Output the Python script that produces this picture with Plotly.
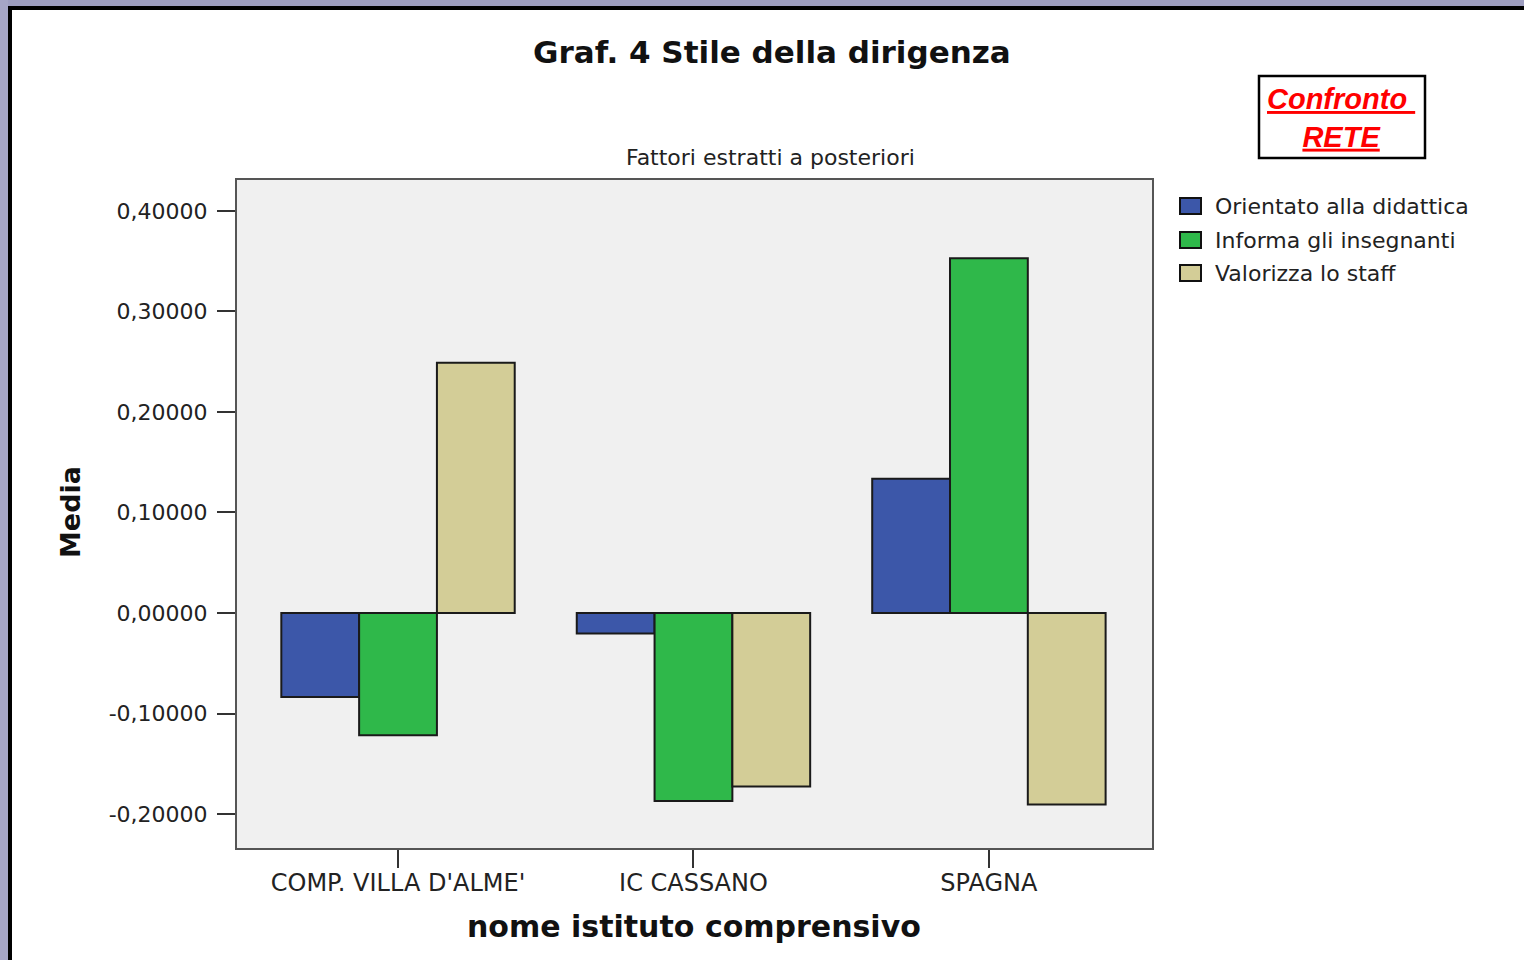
import plotly.graph_objects as go

# ---- data ----
categories = ["COMP. VILLA D'ALME'", "IC CASSANO", "SPAGNA"]
series_names = ["Orientato alla didattica", "Informa gli insegnanti", "Valorizza lo staff"]
orientato = [-0.0835, -0.0205, 0.1335]
informa = [-0.1215, -0.1870, 0.3530]
valorizza = [0.2490, -0.1725, -0.1905]
series_colors = ["#3c57a9", "#2fb84a", "#d3cd97"]
ytick_vals = [-0.2, -0.1, 0.0, 0.1, 0.2, 0.3, 0.4]
ytick_text = ["-0,20000", "-0,10000", "0,00000", "0,10000", "0,20000", "0,30000", "0,40000"]

W, H = 1524, 960
L, R, T, B = 237, 1152, 180, 848
FONT = "DejaVu Sans"


def px(x):
    return (x - L) / (R - L)


def py(y):
    return (B - y) / (B - T)


fig = go.Figure()
for name, vals, col in zip(series_names, [orientato, informa, valorizza], series_colors):
    fig.add_trace(go.Bar(
        x=categories, y=vals, name=name,
        marker=dict(color=col, line=dict(color="#1a1a1a", width=2)),
        showlegend=False,
    ))

shapes = []
# outer frame (lavender bands and black edge)
shapes.append(dict(type="rect", xref="paper", yref="paper", layer="above",
                   x0=px(0), x1=px(W), y0=py(0), y1=py(7),
                   fillcolor="#9e9ec0", line=dict(width=0)))
shapes.append(dict(type="rect", xref="paper", yref="paper", layer="above",
                   x0=px(0), x1=px(8), y0=py(0), y1=py(H),
                   fillcolor="#a6a6c6", line=dict(width=0)))
shapes.append(dict(type="rect", xref="paper", yref="paper", layer="above",
                   x0=px(8), x1=px(W), y0=py(6), y1=py(10),
                   fillcolor="#000000", line=dict(width=0)))
shapes.append(dict(type="rect", xref="paper", yref="paper", layer="above",
                   x0=px(8), x1=px(12), y0=py(6), y1=py(H),
                   fillcolor="#000000", line=dict(width=0)))
# "Confronto RETE" box
shapes.append(dict(type="rect", xref="paper", yref="paper", layer="above",
                   x0=px(1259), x1=px(1425), y0=py(76), y1=py(158),
                   fillcolor="rgba(0,0,0,0)", line=dict(color="#000000", width=2.5)))

annotations = [
    dict(text="<b>Graf. 4 Stile della dirigenza</b>", x=px(772), y=py(52),
         xref="paper", yref="paper", xanchor="center", yanchor="middle", showarrow=False,
         font=dict(family=FONT, size=31, color="#111111")),
    dict(text="Fattori estratti a posteriori", x=px(770), y=py(158),
         xref="paper", yref="paper", xanchor="center", yanchor="middle", showarrow=False,
         font=dict(family=FONT, size=22, color="#222222")),
    dict(text="<b>Media</b>", x=px(70), y=py(512), textangle=-90,
         xref="paper", yref="paper", xanchor="center", yanchor="middle", showarrow=False,
         font=dict(family=FONT, size=27, color="#111111")),
    dict(text="<b>nome istituto comprensivo</b>", x=px(694), y=py(926),
         xref="paper", yref="paper", xanchor="center", yanchor="middle", showarrow=False,
         font=dict(family=FONT, size=30, color="#111111")),
    dict(text="<b><i><u>Confronto </u></i></b><br><b><i><u>RETE</u></i></b>", x=px(1341), y=py(118),
         xref="paper", yref="paper", xanchor="center", yanchor="middle", showarrow=False,
         font=dict(family="Liberation Sans", size=29, color="#ff0000")),
]

# manual legend
leg_y = [206, 240, 273]
for name, col, yy in zip(series_names, series_colors, leg_y):
    shapes.append(dict(type="rect", xref="paper", yref="paper", layer="above",
                       x0=px(1180), x1=px(1201), y0=py(yy - 8), y1=py(yy + 8),
                       fillcolor=col, line=dict(color="#111111", width=2)))
    annotations.append(dict(text=name, x=px(1213), y=py(yy), xref="paper", yref="paper",
                            xanchor="left", yanchor="middle", showarrow=False,
                            font=dict(family=FONT, size=22, color="#222222")))

fig.update_layout(
    width=W, height=H,
    margin=dict(l=L, r=W - R, t=T, b=H - B, pad=0),
    paper_bgcolor="#ffffff",
    plot_bgcolor="#f0f0f0",
    barmode="group", bargap=0.21, bargroupgap=0.0,
    shapes=shapes, annotations=annotations,
    showlegend=False,
    xaxis=dict(
        type="category", range=[-0.545, 2.552],
        showline=True, mirror=True, linecolor="#555555", linewidth=2,
        ticks="outside", ticklen=18, tickwidth=2, tickcolor="#333333",
        ticklabelstandoff=-6,
        showgrid=False, zeroline=False,
        tickfont=dict(family=FONT, size=24, color="#222222"),
    ),
    yaxis=dict(
        range=[-0.2338, 0.4308],
        tickvals=ytick_vals, ticktext=ytick_text,
        showline=True, mirror=True, linecolor="#555555", linewidth=2,
        ticks="outside", ticklen=18, tickwidth=2, tickcolor="#333333",
        ticklabelstandoff=5,
        showgrid=False, zeroline=False,
        tickfont=dict(family=FONT, size=22, color="#222222"),
    ),
)

fig.write_html(
    "out.html",
    config={"displayModeBar": False},
    post_script="document.body.style.margin='0';document.body.style.overflow='hidden';",
)
